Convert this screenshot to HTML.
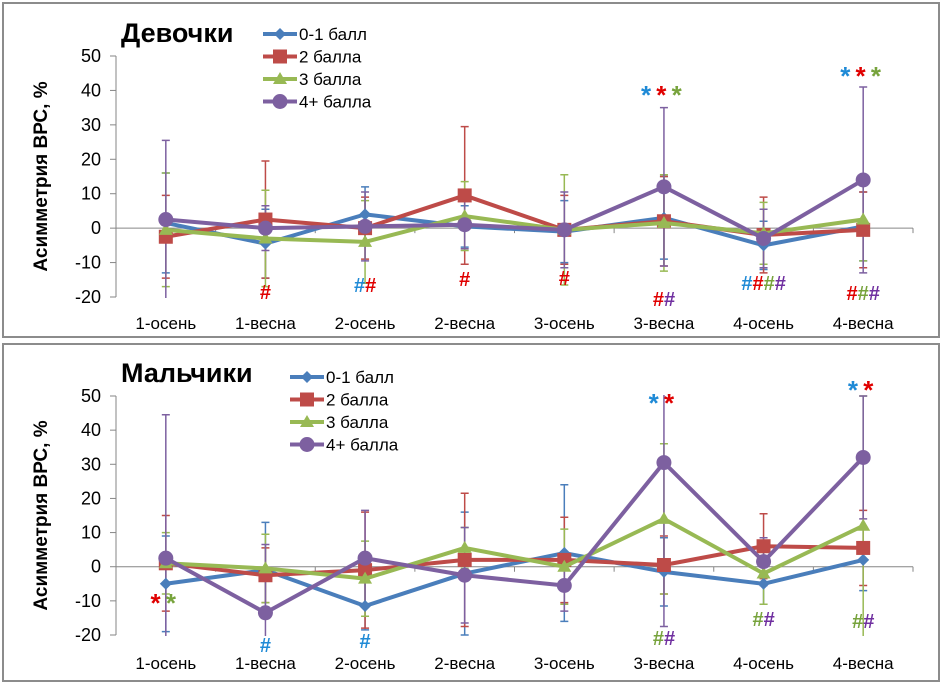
<!DOCTYPE html>
<html><head><meta charset="utf-8">
<style>
body{margin:0;background:#fff;width:943px;height:684px;overflow:hidden;font-family:"Liberation Sans","DejaVu Sans",sans-serif;}
svg text{font-family:"Liberation Sans","DejaVu Sans",sans-serif;}
</style></head>
<body>
<svg id="svg" width="943" height="684" xmlns="http://www.w3.org/2000/svg"></svg>
<script>
const categories = ["1-осень","1-весна","2-осень","2-весна","3-осень","3-весна","4-осень","4-весна"];
const seriesNames = ["0-1 балл","2 балла","3 балла","4+ балла"];
const yTicks = [50,40,30,20,10,0,-10,-20];
// Girls
const girls01 = [1.5,-4.5,4,0.5,-1,3,-5,0.5];
const girls2 = [-2.5,2.5,0,9.5,-0.5,2,-2,-0.5];
const girls3 = [-0.5,-3,-4,3.5,-0.5,1.5,-1.5,2.5];
const girls4 = [2.5,0,0.5,1,-0.5,12,-3,14];
const girlsErr01 = [14.5,10,8,6,9,12,7,10];
const girlsErr2 = [12,17,9,20,10,13,11,11];
const girlsErr3 = [16.5,14,12,10,16,14,9,12];
const girlsErr4 = [23,6.5,10,7,11,23,8.5,27];
// Boys
const boys01 = [-5,-1,-11.5,-2,4,-1.5,-5,2];
const boys2 = [1,-2.5,-1,2,2,0.5,6,5.5];
const boys3 = [1,-0.5,-3.5,5.5,0,14,-2,12];
const boys4 = [2.5,-13.5,2.5,-2.5,-5.5,30.5,1.5,32];
const boysErr01 = [14,14,7,18,20,10,6,9];
const boysErr2 = [14,8,17,19.5,12.5,8.5,9.5,11];
const boysErr3 = [9,10,11,6,11,22,9,38];
const boysErr4 = [42,20,14,14,7.5,48,7,18];

const colors = ["#4a7ebb","#be4b48","#98b954","#7d60a0"];
const NS="http://www.w3.org/2000/svg";
const svg=document.getElementById('svg');
function mk(tag,attrs,parent){const e=document.createElementNS(NS,tag);for(const k in attrs)e.setAttribute(k,attrs[k]);(parent||svg).appendChild(e);return e;}
const defs=mk('defs',{});
function drawPanel(p){
  const g=mk('g',{});
  
  
  const frame=mk('rect',{x:p.box[0],y:p.box[1],width:p.box[2],height:p.box[3],fill:'#fff',stroke:'#8c8c8c','stroke-width':2},g);
  
  
  const x0=116,x1=913,bw=(x1-x0)/categories.length;
  const xs=i=>x0+bw*(i+0.5);
  const ys=v=>p.y50+(50-v)*(p.ym20-p.y50)/70;
  const cp=mk('clipPath',{id:'clip-'+p.name},defs);
  mk('rect',{x:x0,y:ys(50)-1,width:x1-x0,height:ys(-20)-ys(50)+2},cp);
  const ya=mk('line',{x1:x0,y1:ys(50),x2:x0,y2:ys(-20),stroke:'#868686','stroke-width':1},g);
  
  
  yTicks.forEach(t=>{
    mk('line',{x1:x0-6,y1:ys(t),x2:x0,y2:ys(t),stroke:'#868686'},g);
    const tx=mk('text',{x:x0-15,y:ys(t)+6,'text-anchor':'end','font-size':18,fill:'#000'},g);
    tx.textContent=t;
    
    
  });
  const xa=mk('line',{x1:x0,y1:ys(0),x2:x1,y2:ys(0),stroke:'#868686','stroke-width':1},g);
  
  
  for(let i=0;i<=categories.length;i++) mk('line',{x1:x0+bw*i,y1:ys(0),x2:x0+bw*i,y2:ys(0)+5,stroke:'#868686'},g);
  categories.forEach((c,i)=>{
    const tx=mk('text',{x:xs(i),y:p.catY,'text-anchor':'middle','font-size':17,fill:'#000'},g);
    tx.textContent=c;
    
    
  });
  const yl=mk('text',{x:0,y:0,transform:`translate(47,${(ys(50)+ys(-20))/2}) rotate(-90)`,'text-anchor':'middle','font-size':19,'font-weight':'bold',fill:'#000'},g);
  yl.textContent='Асимметрия ВРС, %';
  
  
  const ti=mk('text',{x:121,y:p.titleY,'font-size':27,'font-weight':'bold',fill:'#000'},g);
  ti.textContent=p.title;
  
  
  const plot=mk('g',{'clip-path':`url(#clip-${p.name})`},g);
  p.series.forEach((s,si)=>{
    s.forEach((v,i)=>{
      const e=p.errs[si][i],x=xs(i);
      const eb=mk('path',{d:`M${x},${ys(v+e)}V${ys(v-e)}M${x-4},${ys(v+e)}h8M${x-4},${ys(v-e)}h8`,stroke:colors[si],'stroke-width':1.5,fill:'none'},plot);
      
      
    });
  });
  p.series.forEach((s,si)=>{
    const pl=mk('polyline',{points:s.map((v,i)=>xs(i)+','+ys(v)).join(' '),fill:'none',stroke:colors[si],'stroke-width':4,'stroke-linejoin':'round'},g);
    
    
    s.forEach((v,i)=>{
      const m=marker(g,si,xs(i),ys(v));
      
      
    });
  });
  seriesNames.forEach((n,si)=>{
    const ly=p.legY+si*22.5,lx=p.legX;
    const lg=mk('g',{},g);
    
    
    mk('line',{x1:lx,y1:ly,x2:lx+34,y2:ly,stroke:colors[si],'stroke-width':4},lg);
    marker(lg,si,lx+17,ly);
    const t=mk('text',{x:lx+36,y:ly+6,'font-size':17,fill:'#000'},lg);t.textContent=n;
  });
  p.ann.forEach(a=>{
    const t=mk('text',{x:xs(a[0]),y:a[1],'text-anchor':'middle','font-size':a[2]==='*'?26:20,'font-weight':'bold'},g);
    
    
    a[3].forEach(c=>{const ts=mk('tspan',{fill:c},t);ts.textContent=a[2]+(a[2]==='*'?'\u2009':'');});
  });
}
function marker(g,si,x,y){
  const c=colors[si];
  if(si===0) return mk('path',{d:`M${x},${y-6}L${x+6},${y}L${x},${y+6}L${x-6},${y}Z`,fill:c},g);
  if(si===1) return mk('rect',{x:x-7,y:y-7,width:14,height:14,fill:c},g);
  if(si===2) return mk('path',{d:`M${x},${y-7}L${x+7},${y+5}L${x-7},${y+5}Z`,fill:c},g);
  return mk('circle',{cx:x,cy:y,r:7.5,fill:c},g);
}
const B='#1f8ad6',R='#e00000',G='#77a33c',P='#7030a0';
drawPanel({name:'girls-chart',box:[3,3,936,334],y50:56,ym20:297,catY:329,title:'Девочки',titleY:42,legX:263,legY:34,
 series:[girls01,girls2,girls3,girls4],errs:[girlsErr01,girlsErr2,girlsErr3,girlsErr4],
 ann:[[1,299,'#',[R]],[2,292,'#',[B,R]],[3,286,'#',[R]],[4,285,'#',[R]],[5,306,'#',[R,P]],[6,290,'#',[B,R,G,P]],[7,300,'#',[R,G,P]],
      [5,104,'*',[B,R,G]],[7,85,'*',[B,R,G]]]});
drawPanel({name:'boys-chart',box:[3,344,936,337],y50:396,ym20:635,catY:669,title:'Мальчики',titleY:382,legX:290,legY:377,
 series:[boys01,boys2,boys3,boys4],errs:[boysErr01,boysErr2,boysErr3,boysErr4],
 ann:[[0,612,'*',[R,G]],[1,652,'#',[B]],[2,648,'#',[B]],[5,645,'#',[G,P]],[6,626,'#',[G,P]],[7,628,'#',[G,P]],
      [5,412,'*',[B,R]],[7,399,'*',[B,R]]]});
</script>
</body></html>
